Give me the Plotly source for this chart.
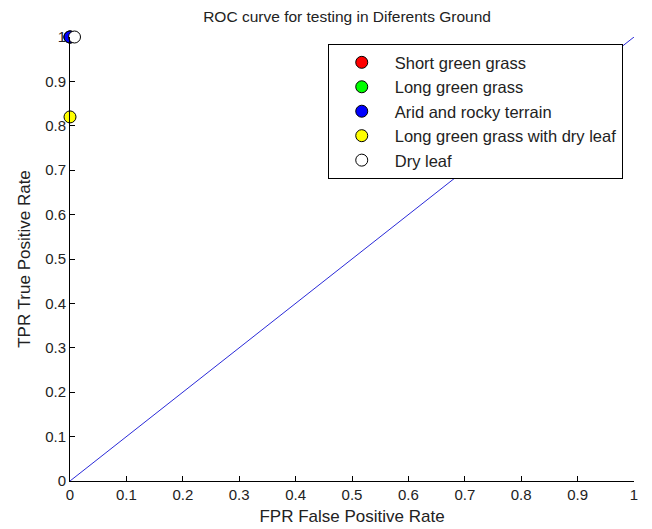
import plotly.graph_objects as go

# Data
names = ["Short green grass", "Long green grass", "Arid and rocky terrain",
         "Long green grass with dry leaf", "Dry leaf"]
fpr = [0.0, 0.0, 0.0, 0.0, 0.008]
tpr = [1.0, 1.0, 1.0, 0.82, 1.0]
colors = ["#ff0000", "#00ff00", "#0000ff", "#ffff00", "#ffffff"]
diag_x = [0, 1]
diag_y = [0, 1]
ticks = [0, 0.1, 0.2, 0.3, 0.4, 0.5, 0.6, 0.7, 0.8, 0.9, 1]
tick_text = ["0", "0.1", "0.2", "0.3", "0.4", "0.5", "0.6", "0.7", "0.8", "0.9", "1"]

fig = go.Figure()
fig.add_trace(go.Scatter(x=diag_x, y=diag_y, mode="lines",
                         line=dict(color="#2a2ad8", width=1), showlegend=False,
                         hoverinfo="skip"))
for i, (n, x, y, c) in enumerate(zip(names, fpr, tpr, colors)):
    fig.add_trace(go.Scatter(x=[x], y=[y], mode="markers", name=n,
                             legendgroup=f"g{i}",
                             marker=dict(size=12, color=c,
                                         line=dict(color="#000000", width=1)),
                             cliponaxis=False))

font = "Liberation Sans, Arial, sans-serif"
axis_common = dict(
    tickvals=ticks, ticktext=tick_text, ticks="inside", ticklen=5,
    tickcolor="#000", showline=True, linecolor="#000", linewidth=1,
    showgrid=False, zeroline=False, mirror=False,
    tickfont=dict(family=font, size=15, color="#222"),
)
fig.update_layout(
    width=652, height=529,
    margin=dict(l=62, r=26, t=29, b=56),
    paper_bgcolor="white", plot_bgcolor="white",
    title=dict(text="ROC curve for testing in Diferents Ground",
               x=0.52, xanchor="center", xref="container",
               y=1, yref="paper", yanchor="bottom", pad=dict(b=15),
               font=dict(family=font, size=15.5, color="#222")),
    xaxis=dict(range=[0, 1],
               title=dict(text="FPR False Positive Rate", standoff=8,
                          font=dict(family=font, size=17, color="#222")),
               **axis_common),
    yaxis=dict(range=[0, 1],
               title=dict(text="TPR True Positive Rate", standoff=10,
                          font=dict(family=font, size=17, color="#222")),
               **axis_common),
    legend=dict(x=0.457, y=0.984, xanchor="left", yanchor="top",
                bgcolor="white", bordercolor="#000", borderwidth=1,
                font=dict(family=font, size=16.5, color="#222"),
                itemwidth=56,
                tracegroupgap=0, traceorder="grouped"),
    showlegend=True,
)
fig.write_html("out.html")
